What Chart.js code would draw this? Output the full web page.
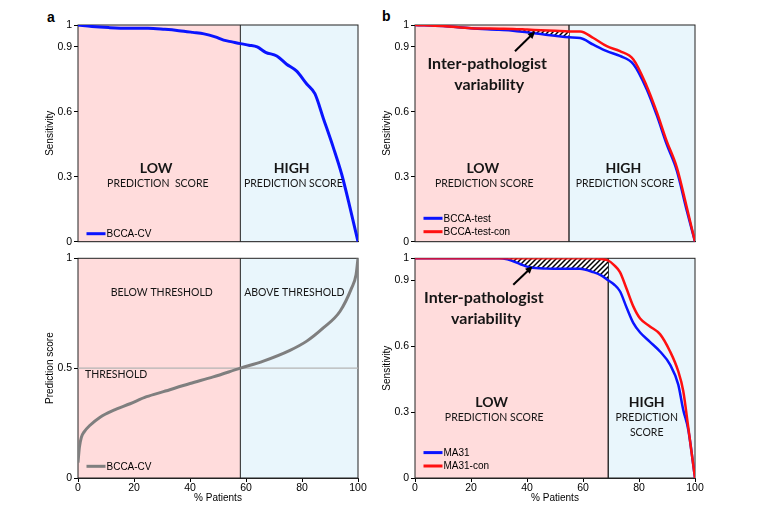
<!DOCTYPE html>
<html>
<head>
<meta charset="utf-8">
<script src="https://cdn.jsdelivr.net/npm/chart.js@4.4.1/dist/chart.umd.min.js"></script>
<style>
  body { margin: 0; background: #fff; width: 760px; height: 511px; position: relative; overflow: hidden; }
  canvas { position: absolute; }
  .tag { position: absolute; font: bold 14px 'Liberation Sans', Arial, sans-serif; }
</style>
</head>
<body>
<div class="tag" style="left:47px;top:9px">a</div>
<div class="tag" style="left:382px;top:8px">b</div>
<canvas id="aTop" width="380" height="250" style="left:0;top:0"></canvas>
<canvas id="aBot" width="380" height="261" style="left:0;top:250px"></canvas>
<canvas id="bTop" width="385" height="250" style="left:375px;top:0"></canvas>
<canvas id="bBot" width="385" height="261" style="left:375px;top:250px"></canvas>
<script>
// panel a (top): sensitivity, BCCA-CV
const aPatients = [0, 5, 11, 18, 25, 31, 36, 41, 45, 49, 52, 55, 58, 61, 64, 67, 71, 74.5, 78, 81.7, 84.6, 87.6, 91.2, 94.2, 97.1, 100];
const aSensCV = [1, 0.993, 0.988, 0.985, 0.985, 0.98, 0.974, 0.966, 0.959, 0.945, 0.93, 0.922, 0.914, 0.907, 0.899, 0.874, 0.857, 0.819, 0.788, 0.728, 0.683, 0.57, 0.434, 0.31, 0.16, 0];

// panel a (bottom): prediction score, BCCA-CV
const aScorePatients = [0, 0.5, 1.2, 2.2, 4.3, 7.9, 12.6, 18.6, 24.5, 30.5, 40, 48.3, 58, 66.2, 75.7, 81.7, 87.6, 93.6, 97.7, 99.3, 100];
const aScoreCV = [0.07, 0.14, 0.185, 0.21, 0.24, 0.277, 0.308, 0.338, 0.37, 0.393, 0.43, 0.46, 0.5, 0.532, 0.581, 0.623, 0.683, 0.759, 0.864, 0.925, 1];
const THRESHOLD = 0.5;

// panel b (top): BCCA-test vs BCCA-test-con
const bTopPatients = [0, 10, 20, 30, 35, 40, 45, 50, 55, 59, 63.7, 68.5, 73.2, 78, 82.7, 86.3, 89.9, 93.5, 97, 100];
const bccaTestCon = [1, 0.995, 0.985, 0.983, 0.982, 0.979, 0.976, 0.973, 0.97, 0.97, 0.94, 0.902, 0.879, 0.841, 0.72, 0.6, 0.464, 0.343, 0.162, 0];
const bccaTest = [1, 0.995, 0.985, 0.978, 0.974, 0.966, 0.958, 0.95, 0.943, 0.94, 0.909, 0.879, 0.857, 0.819, 0.705, 0.585, 0.449, 0.328, 0.147, 0];

// panel b (bottom): MA31 vs MA31-con
const bBotPatients = [0, 10, 20, 30, 33, 37.5, 41, 47, 53, 58.9, 63.7, 66.5, 69, 71, 73.2, 75.6, 78, 80.4, 83.9, 87.5, 91.1, 94, 95.8, 97.6, 100];
const ma31Con = [1, 1, 1, 1, 1, 1, 1, 1, 1, 1, 1, 0.997, 0.99, 0.97, 0.937, 0.86, 0.78, 0.726, 0.69, 0.655, 0.576, 0.486, 0.396, 0.23, 0];
const ma31 = [1, 1, 1, 1, 0.995, 0.974, 0.959, 0.953, 0.952, 0.952, 0.937, 0.922, 0.9, 0.882, 0.85, 0.775, 0.705, 0.662, 0.62, 0.576, 0.516, 0.426, 0.31, 0.22, 0];

// where LOW turns into HIGH (% patients)
const aSplit = 58, bTopSplit = 55, bBotSplit = 69;

const sensTicks = [0, 0.3, 0.6, 0.9, 1];
const scoreTicks = [0, 0.5, 1];

const BLUE = '#0a14ff', RED = '#ff1010', GREY = '#7f7f7f';
const LOW_FILL = '#ffdcdc', HIGH_FILL = '#e9f6fc';
const AXIS_FONT = { family: "'Liberation Sans', Arial, sans-serif", size: 10 };
const txt = '#151515';

const pts = (xs, ys) => xs.map((x, i) => ({ x: x, y: ys[i] }));

function hatch() {
  const c = document.createElement('canvas');
  c.width = 5; c.height = 5;
  const g = c.getContext('2d');
  g.fillStyle = '#fff'; g.fillRect(0, 0, 5, 5);
  g.strokeStyle = '#000'; g.lineWidth = 1.5;
  g.beginPath();
  g.moveTo(0, 5); g.lineTo(5, 0);
  g.moveTo(-1, 1); g.lineTo(1, -1);
  g.moveTo(4, 6); g.lineTo(6, 4);
  g.stroke();
  return g.createPattern(c, 'repeat');
}

function line(label, xs, ys, color, width) {
  return { label: label, data: pts(xs, ys), borderColor: color, borderWidth: width, fill: false };
}

// draws the LOW/HIGH zones, divider, frame, texts, arrow and the legend
const decor = {
  id: 'decor',
  beforeDatasetsDraw(chart, args, o) {
    const { ctx, chartArea: a, scales: { x } } = chart;
    const xs = x.getPixelForValue(o.split);
    ctx.save();
    ctx.fillStyle = LOW_FILL;
    ctx.fillRect(a.left, a.top, xs - a.left, a.height);
    ctx.fillStyle = HIGH_FILL;
    ctx.fillRect(xs, a.top, a.right - xs, a.height);
    ctx.strokeStyle = o.splitColor;
    ctx.lineWidth = 1.2;
    ctx.beginPath(); ctx.moveTo(xs, a.top); ctx.lineTo(xs, a.bottom); ctx.stroke();
    ctx.strokeStyle = '#222';
    ctx.lineWidth = 1;
    ctx.strokeRect(a.left, a.top, a.width, a.height);
    ctx.restore();
  },
  afterDatasetsDraw(chart, args, o) {
    const { ctx, chartArea: a, scales: { x, y } } = chart;
    ctx.save();
    ctx.fillStyle = txt;
    ctx.textBaseline = 'middle';
    (o.texts || []).forEach(t => {
      ctx.font = t.font;
      ctx.textAlign = t.align || 'center';
      ctx.fillText(t.t, x.getPixelForValue(t.x), y.getPixelForValue(t.y));
    });
    if (o.arrow) {
      const x0 = x.getPixelForValue(o.arrow[0]), y0 = y.getPixelForValue(o.arrow[1]);
      const x1 = x.getPixelForValue(o.arrow[2]), y1 = y.getPixelForValue(o.arrow[3]);
      const ang = Math.atan2(y1 - y0, x1 - x0);
      ctx.strokeStyle = '#000'; ctx.fillStyle = '#000'; ctx.lineWidth = 2;
      ctx.beginPath(); ctx.moveTo(x0, y0);
      ctx.lineTo(x1 - 5 * Math.cos(ang), y1 - 5 * Math.sin(ang)); ctx.stroke();
      ctx.beginPath();
      ctx.moveTo(x1, y1);
      ctx.lineTo(x1 - 8 * Math.cos(ang - 0.45), y1 - 8 * Math.sin(ang - 0.45));
      ctx.lineTo(x1 - 8 * Math.cos(ang + 0.45), y1 - 8 * Math.sin(ang + 0.45));
      ctx.closePath(); ctx.fill();
    }
    ctx.font = "10px 'Liberation Sans', Arial, sans-serif";
    ctx.textAlign = 'left';
    (o.legend || []).forEach(it => {
      const ds = chart.data.datasets[it.ds];
      const ly = a.bottom - it.dy, lx = a.left + 8.5;
      ctx.strokeStyle = ds.borderColor; ctx.lineWidth = 3;
      ctx.beginPath(); ctx.moveTo(lx, ly); ctx.lineTo(lx + 19, ly); ctx.stroke();
      ctx.fillStyle = '#000';
      ctx.fillText(ds.label, lx + 20, ly + 0.5);
    });
    ctx.restore();
  }
};

function yAxis(title, ticks) {
  return {
    type: 'linear', min: 0, max: 1,
    afterBuildTicks: s => { s.ticks = ticks.map(v => ({ value: v })); },
    afterFit: s => { s.width = 38; },
    ticks: { font: { ...AXIS_FONT, size: 10.5 }, color: '#000', padding: 2, autoSkip: false, callback: v => String(v) },
    grid: { drawOnChartArea: false, tickLength: 4, color: '#000' },
    border: { color: '#222' },
    title: { display: true, text: title, font: AXIS_FONT, color: '#000', padding: { top: 4, bottom: 4 } }
  };
}

function xAxis(withTicks) {
  if (!withTicks) {
    return {
      type: 'linear', min: 0, max: 100,
      ticks: { display: false }, grid: { display: false }, border: { color: '#222' },
      afterFit: s => { s.height = 4; }
    };
  }
  return {
    type: 'linear', min: 0, max: 100,
    ticks: { stepSize: 20, font: { ...AXIS_FONT, size: 10.5 }, color: '#000', padding: 0, maxRotation: 0 },
    grid: { drawOnChartArea: false, tickLength: 4, color: '#000' },
    border: { color: '#222' },
    title: { display: true, text: '% Patients', font: AXIS_FONT, color: '#000', padding: { top: 0, bottom: 7 } },
    afterFit: s => { s.height = 33; }
  };
}

function panel(id, datasets, o) {
  return new Chart(document.getElementById(id), {
    type: 'line',
    data: { datasets: datasets },
    options: {
      responsive: false, animation: false, devicePixelRatio: 1,
      layout: { padding: o.pad },
      elements: { point: { radius: 0 }, line: { cubicInterpolationMode: 'monotone' } },
      scales: { x: xAxis(o.xTicks), y: yAxis(o.yTitle, o.yTicks) },
      plugins: { legend: { display: false }, tooltip: { enabled: false }, decor: o.decor }
    },
    plugins: [decor]
  });
}

const bold = "bold 14px Lato, sans-serif";
const big = "bold 16px Lato, sans-serif";
const small = "10.5px Lato, sans-serif";

panel('aTop', [line('BCCA-CV', aPatients, aSensCV, BLUE, 3)], {
  pad: { left: 40, right: 22, top: 25, bottom: 0 }, xTicks: false,
  yTitle: 'Sensitivity', yTicks: sensTicks,
  decor: {
    split: aSplit, splitColor: '#444',
    texts: [
      { t: 'LOW', x: 27.9, y: 0.34, font: bold },
      { t: 'PREDICTION  SCORE', x: 28.5, y: 0.27, font: small },
      { t: 'HIGH', x: 76.3, y: 0.34, font: bold },
      { t: 'PREDICTION SCORE', x: 76.9, y: 0.27, font: small }
    ],
    legend: [{ ds: 0, dy: 8 }]
  }
});

panel('aBot', [
  line('BCCA-CV', aScorePatients, aScoreCV, GREY, 3),
  line('Threshold', [0, 100], [THRESHOLD, THRESHOLD], '#b4b4b4', 1.3)
], {
  pad: { left: 40, right: 22, top: 7, bottom: 0 }, xTicks: true,
  yTitle: 'Prediction score', yTicks: scoreTicks,
  decor: {
    split: aSplit, splitColor: '#444',
    texts: [
      { t: 'BELOW THRESHOLD', x: 29.9, y: 0.843, font: small },
      { t: 'ABOVE THRESHOLD', x: 77.25, y: 0.843, font: small },
      { t: 'THRESHOLD', x: 2.5, y: 0.469, font: small, align: 'left' }
    ],
    legend: [{ ds: 0, dy: 11.7 }]
  }
});

const hTop = [3, 9];
panel('bTop', [
  line('BCCA-test-con', bTopPatients, bccaTestCon, RED, 2.5),
  line('BCCA-test', bTopPatients, bccaTest, BLUE, 2.5),
  { label: 'hatch', data: pts(bTopPatients.slice(...hTop), bccaTestCon.slice(...hTop)), borderWidth: 0, fill: 3, backgroundColor: hatch() },
  { label: 'hatch-base', data: pts(bTopPatients.slice(...hTop), bccaTest.slice(...hTop)), borderWidth: 0, fill: false }
], {
  pad: { left: 2, right: 65, top: 25, bottom: 0 }, xTicks: false,
  yTitle: 'Sensitivity', yTicks: sensTicks,
  decor: {
    split: bTopSplit, splitColor: '#000',
    texts: [
      { t: 'Inter-pathologist', x: 25.8, y: 0.822, font: big },
      { t: 'variability', x: 26.5, y: 0.724, font: big },
      { t: 'LOW', x: 24.2, y: 0.34, font: bold },
      { t: 'PREDICTION SCORE', x: 24.75, y: 0.27, font: small },
      { t: 'HIGH', x: 74.4, y: 0.34, font: bold },
      { t: 'PREDICTION SCORE', x: 75, y: 0.27, font: small }
    ],
    arrow: [35.7, 0.879, 42.9, 0.97],
    legend: [{ ds: 1, dy: 23.4 }, { ds: 0, dy: 10 }]
  }
});

const hBot = [4, 13];
panel('bBot', [
  line('MA31-con', bBotPatients, ma31Con, RED, 2.5),
  line('MA31', bBotPatients, ma31, BLUE, 2.5),
  { label: 'hatch', data: pts(bBotPatients.slice(...hBot), ma31Con.slice(...hBot)), borderWidth: 0, fill: 3, backgroundColor: hatch() },
  { label: 'hatch-base', data: pts(bBotPatients.slice(...hBot), ma31.slice(...hBot)), borderWidth: 0, fill: false }
], {
  pad: { left: 2, right: 65, top: 6, bottom: 0 }, xTicks: true,
  yTitle: 'Sensitivity', yTicks: sensTicks,
  decor: {
    split: bBotSplit, splitColor: '#000',
    texts: [
      { t: 'Inter-pathologist', x: 24.6, y: 0.821, font: big },
      { t: 'variability', x: 25.4, y: 0.726, font: big },
      { t: 'LOW', x: 27.4, y: 0.343, font: bold },
      { t: 'PREDICTION SCORE', x: 28.3, y: 0.275, font: small },
      { t: 'HIGH', x: 82.75, y: 0.343, font: bold },
      { t: 'PREDICTION', x: 82.75, y: 0.275, font: small },
      { t: 'SCORE', x: 82.75, y: 0.207, font: small }
    ],
    arrow: [35.1, 0.88, 42, 0.964],
    legend: [{ ds: 1, dy: 25.4 }, { ds: 0, dy: 12 }]
  }
});
</script>
</body>
</html>
